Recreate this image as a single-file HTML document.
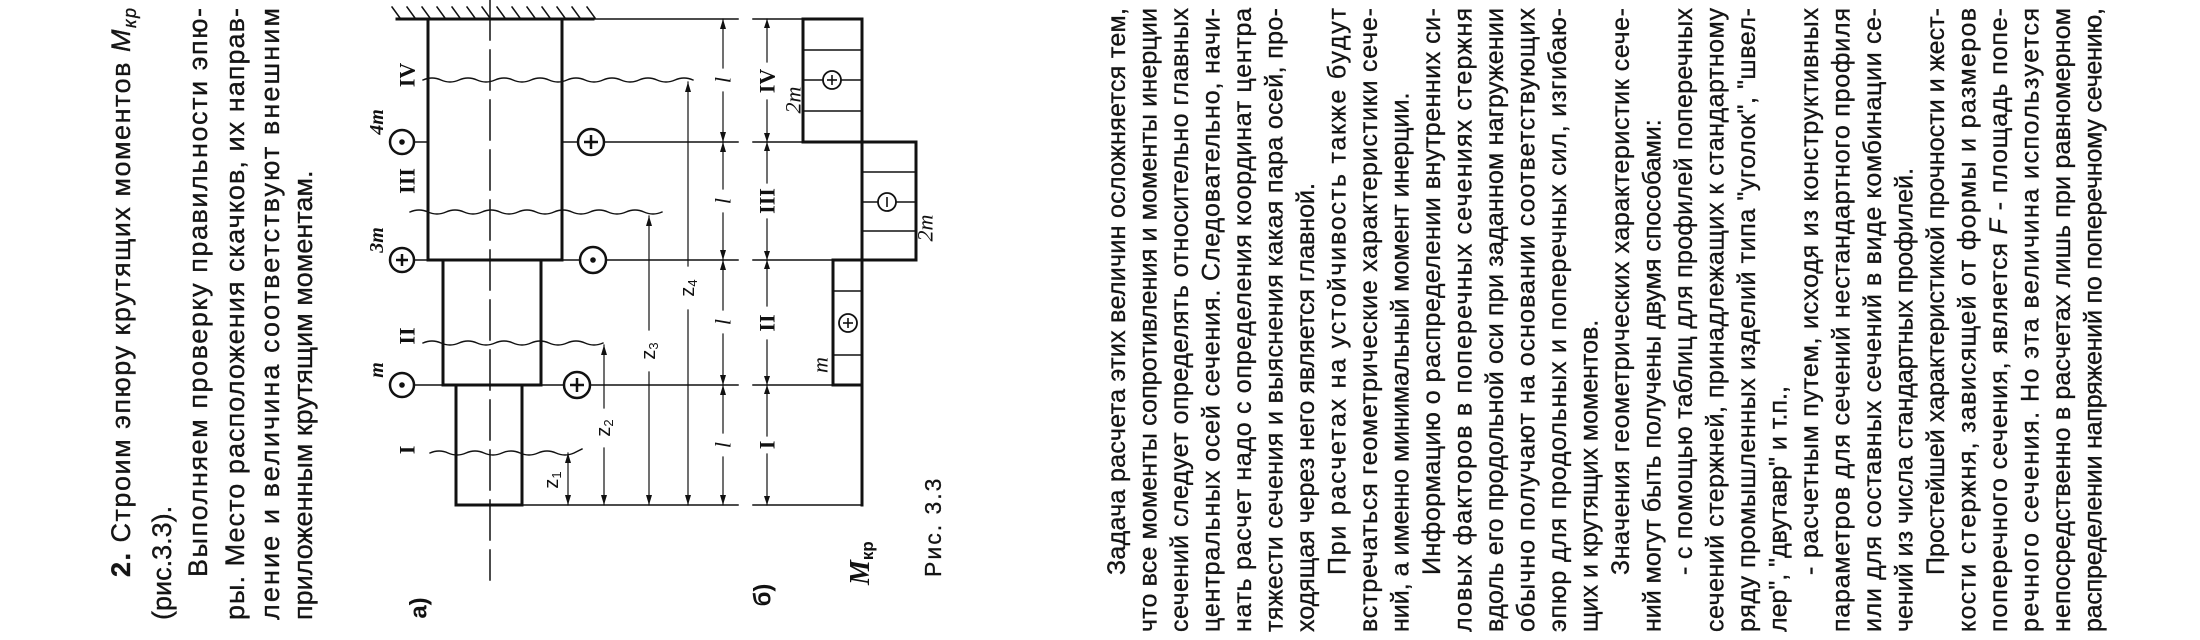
<!DOCTYPE html>
<html><head><meta charset="utf-8"><style>
html,body{margin:0;padding:0;background:#fff;width:2200px;height:640px;overflow:hidden}
svg{display:block}
</style></head><body>
<svg width="2200" height="640" viewBox="0 0 2200 640" xmlns="http://www.w3.org/2000/svg">
<rect width="2200" height="640" fill="#fff"/>

<!-- LEFT TEXT BLOCK -->
<g font-family="'Liberation Sans', sans-serif" font-size="27" fill="#151515" stroke="#151515" stroke-width="0.35">
<text transform="translate(130,577) rotate(-90)" textLength="569" lengthAdjust="spacing"><tspan font-weight="bold">2.</tspan> Строим эпюру крутящих моментов <tspan font-style="italic">M</tspan><tspan font-style="italic" font-size="18" dy="6">кр</tspan></text>
<text transform="translate(171,620) rotate(-90)">(рис.3.3).</text>
<text transform="translate(207,577) rotate(-90)" textLength="569" lengthAdjust="spacing">Выполняем проверку правильности эпю-</text>
<text transform="translate(244,620) rotate(-90)" textLength="612" lengthAdjust="spacing">ры. Место расположения скачков, их направ-</text>
<text transform="translate(279,620) rotate(-90)" textLength="612" lengthAdjust="spacing">ление и величина соответствуют внешним</text>
<text transform="translate(312,620) rotate(-90)">приложенным крутящим моментам.</text>
</g>

<!-- FIGURE a) -->
<g stroke="#111" fill="none" stroke-linecap="square">
  <line x1="490" y1="0" x2="490" y2="580" stroke-width="1.5" stroke-dasharray="40 10"/>
  <line x1="397" y1="19" x2="593" y2="19" stroke-width="3"/>
  <line x1="562" y1="19" x2="738" y2="19" stroke-width="1.5"/>
  <path stroke-width="1.5" d="M392,7 L400,18 M407,7 L415,18 M422,7 L430,18 M437,7 L445,18 M452,7 L460,18 M467,7 L475,18 M482,7 L490,18 M497,7 L505,18 M512,7 L520,18 M527,7 L535,18 M542,7 L550,18 M557,7 L565,18 M572,7 L580,18 M587,7 L595,18"/>
  <path stroke-width="3" d="M428,19 V260 H562 V19"/>
  <path stroke-width="3" d="M443,260 V385 H541 V260"/>
  <path stroke-width="3" d="M456,385 V505 H522 V385"/>
  <line x1="414" y1="142" x2="428" y2="142" stroke-width="1.5"/>
  <line x1="414" y1="260" x2="443" y2="260" stroke-width="1.5"/>
  <line x1="414" y1="385" x2="456" y2="385" stroke-width="1.5"/>
  <line x1="562" y1="142" x2="738" y2="142" stroke-width="1.5"/>
  <line x1="562" y1="260" x2="738" y2="260" stroke-width="1.5"/>
  <line x1="541" y1="385" x2="738" y2="385" stroke-width="1.5"/>
  <line x1="522" y1="505" x2="738" y2="505" stroke-width="1.5"/>
  <path stroke-width="1.4" d="M423,80 q9,-4 18,0 t18,0 t18,0 t18,0 t18,0 t18,0 t18,0 t18,0 t18,0 t18,0 t18,0 t18,0 t18,0 t18,0 t18,0"/>
  <path stroke-width="1.4" d="M410,212 q9,-4 18,0 t18,0 t18,0 t18,0 t18,0 t18,0 t18,0 t18,0 t18,0 t18,0 t18,0 t18,0 t18,0 t18,0"/>
  <path stroke-width="1.4" d="M423,343 q9,-4 18,0 t18,0 t18,0 t18,0 t18,0 t18,0 t18,0 t18,0 t18,0 t18,0"/>
  <path stroke-width="1.4" d="M430,453 q9,-4 18,0 t18,0 t18,0 t18,0 t18,0 t18,0 t18,0 t18,0 l8,-4"/>
  <line x1="568" y1="453" x2="568" y2="505" stroke-width="1.2"/>
  <line x1="604" y1="345" x2="604" y2="408" stroke-width="1.2"/>
  <line x1="604" y1="448" x2="604" y2="505" stroke-width="1.2"/>
  <line x1="649" y1="216" x2="649" y2="330" stroke-width="1.2"/>
  <line x1="649" y1="372" x2="649" y2="505" stroke-width="1.2"/>
  <line x1="688" y1="82" x2="688" y2="266" stroke-width="1.2"/>
  <line x1="688" y1="310" x2="688" y2="505" stroke-width="1.2"/>
  <line x1="723" y1="19" x2="723" y2="68" stroke-width="1.2"/>
  <line x1="723" y1="92" x2="723" y2="189" stroke-width="1.2"/>
  <line x1="723" y1="213" x2="723" y2="310" stroke-width="1.2"/>
  <line x1="723" y1="334" x2="723" y2="433" stroke-width="1.2"/>
  <line x1="723" y1="457" x2="723" y2="505" stroke-width="1.2"/>
  <line x1="753" y1="19" x2="862" y2="19" stroke-width="1.5"/>
  <line x1="753" y1="142" x2="916" y2="142" stroke-width="1.5"/>
  <line x1="753" y1="260" x2="916" y2="260" stroke-width="1.5"/>
  <line x1="753" y1="385" x2="862" y2="385" stroke-width="1.5"/>
  <line x1="753" y1="505" x2="862" y2="505" stroke-width="1.5"/>
  <line x1="767" y1="19" x2="767" y2="62" stroke-width="1.2"/>
  <line x1="767" y1="100" x2="767" y2="183" stroke-width="1.2"/>
  <line x1="767" y1="219" x2="767" y2="306" stroke-width="1.2"/>
  <line x1="767" y1="340" x2="767" y2="436" stroke-width="1.2"/>
  <line x1="767" y1="454" x2="767" y2="505" stroke-width="1.2"/>
  <line x1="862" y1="19" x2="862" y2="505" stroke-width="3"/>
  <path stroke-width="3" d="M862,19 H803 V142 H862"/>
  <path stroke-width="3" d="M862,142 H916 V260 H862"/>
  <path stroke-width="3" d="M862,260 H833 V385 H862"/>
  <g stroke-width="1.4">
    <line x1="803" y1="50" x2="862" y2="50"/>
    <line x1="803" y1="111" x2="862" y2="111"/>
    <line x1="803" y1="80" x2="822" y2="80"/>
    <line x1="842" y1="80" x2="862" y2="80"/>
    <line x1="862" y1="172" x2="916" y2="172"/>
    <line x1="862" y1="231" x2="916" y2="231"/>
    <line x1="862" y1="202" x2="877" y2="202"/>
    <line x1="897" y1="202" x2="916" y2="202"/>
    <line x1="833" y1="291" x2="862" y2="291"/>
    <line x1="833" y1="355" x2="862" y2="355"/>
  </g>
</g>

<g fill="#111" stroke="none">
  <polygon points="565,463 571,463 568,453"/>
  <polygon points="565,495 571,495 568,505"/>
  <polygon points="601,355 607,355 604,345"/>
  <polygon points="601,495 607,495 604,505"/>
  <polygon points="646,226 652,226 649,216"/>
  <polygon points="646,495 652,495 649,505"/>
  <polygon points="685,92 691,92 688,82"/>
  <polygon points="685,495 691,495 688,505"/>
  <polygon points="720,29 726,29 723,19"/>
  <polygon points="720,132 726,132 723,142"/>
  <polygon points="720,152 726,152 723,142"/>
  <polygon points="720,250 726,250 723,260"/>
  <polygon points="720,270 726,270 723,260"/>
  <polygon points="720,375 726,375 723,385"/>
  <polygon points="720,395 726,395 723,385"/>
  <polygon points="720,495 726,495 723,505"/>
  <polygon points="764,28 770,28 767,19"/>
  <polygon points="764,133 770,133 767,142"/>
  <polygon points="764,151 770,151 767,142"/>
  <polygon points="764,251 770,251 767,260"/>
  <polygon points="764,269 770,269 767,260"/>
  <polygon points="764,376 770,376 767,385"/>
  <polygon points="764,394 770,394 767,385"/>
  <polygon points="764,496 770,496 767,505"/>
</g>

<g stroke="#111" stroke-width="2.5" fill="#fff">
  <circle cx="402" cy="142" r="12"/>
  <circle cx="402" cy="260" r="12"/>
  <circle cx="402" cy="385" r="12"/>
  <circle cx="591" cy="142" r="13"/>
  <circle cx="593" cy="260" r="13"/>
  <circle cx="577" cy="385" r="13"/>
  <circle cx="832" cy="80" r="9" stroke-width="1.8"/>
  <circle cx="887" cy="202" r="9" stroke-width="1.8"/>
  <circle cx="848" cy="323" r="9" stroke-width="1.8"/>
</g>
<g fill="#111">
  <circle cx="402" cy="142" r="2.8"/>
  <circle cx="402" cy="385" r="2.8"/>
  <circle cx="593" cy="260" r="2.8"/>
</g>
<g stroke="#111" stroke-width="2.5">
  <line x1="396" y1="260" x2="408" y2="260"/><line x1="402" y1="254" x2="402" y2="266"/>
  <line x1="584" y1="142" x2="598" y2="142"/><line x1="591" y1="135" x2="591" y2="149"/>
  <line x1="570" y1="385" x2="584" y2="385"/><line x1="577" y1="378" x2="577" y2="392"/>
</g>
<g stroke="#111" stroke-width="1.6">
  <line x1="827" y1="80" x2="837" y2="80"/><line x1="832" y1="75" x2="832" y2="85"/>
  <line x1="887" y1="197" x2="887" y2="207"/>
  <line x1="843" y1="323" x2="853" y2="323"/><line x1="848" y1="318" x2="848" y2="328"/>
</g>

<g fill="#111" text-anchor="middle" dominant-baseline="central">
  <g font-family="'Liberation Serif', serif" font-weight="bold" font-size="22">
    <text transform="translate(407,75) rotate(-90)">IV</text>
    <text transform="translate(407,181) rotate(-90)">III</text>
    <text transform="translate(407,336) rotate(-90)">II</text>
    <text transform="translate(407,450) rotate(-90)">I</text>
    <text transform="translate(767,81) rotate(-90)">IV</text>
    <text transform="translate(767,201) rotate(-90)">III</text>
    <text transform="translate(767,323) rotate(-90)">II</text>
    <text transform="translate(767,445) rotate(-90)">I</text>
  </g>
  <g font-family="'Liberation Serif', serif" font-weight="bold" font-style="italic" font-size="20">
    <text transform="translate(377,122) rotate(-90)">4m</text>
    <text transform="translate(377,240) rotate(-90)">3m</text>
    <text transform="translate(377,370) rotate(-90)">m</text>
  </g>
  <g font-family="'Liberation Serif', serif" font-style="italic" font-size="22">
    <text transform="translate(723,80) rotate(-90)">l</text>
    <text transform="translate(723,201) rotate(-90)">l</text>
    <text transform="translate(723,322) rotate(-90)">l</text>
    <text transform="translate(723,445) rotate(-90)">l</text>
    <text transform="translate(793,100) rotate(-90)">2m</text>
    <text transform="translate(925,228) rotate(-90)">2m</text>
    <text transform="translate(820,365) rotate(-90)">m</text>
  </g>
  <g font-family="'Liberation Sans', sans-serif" font-size="20">
    <text transform="translate(552,480) rotate(-90)">z<tspan font-size="13" dy="4">1</tspan></text>
    <text transform="translate(604,428) rotate(-90)">z<tspan font-size="13" dy="4">2</tspan></text>
    <text transform="translate(649,351) rotate(-90)">z<tspan font-size="13" dy="4">3</tspan></text>
    <text transform="translate(688,288) rotate(-90)">z<tspan font-size="13" dy="4">4</tspan></text>
  </g>
  <g font-family="'Liberation Sans', sans-serif" font-weight="bold" font-size="24">
    <text transform="translate(419,608) rotate(-90)">а)</text>
    <text transform="translate(763,595) rotate(-90)">б)</text>
  </g>
</g>
<text transform="translate(869,585) rotate(-90)" font-family="'Liberation Serif', serif" font-weight="bold" font-style="italic" font-size="28" fill="#111">M<tspan font-family="'Liberation Sans', sans-serif" font-style="normal" font-size="17" dy="4">кр</tspan></text>
<text transform="translate(941,577) rotate(-90)" font-family="'Liberation Sans', sans-serif" font-size="23" letter-spacing="2" fill="#151515" stroke="#151515" stroke-width="0.3">Рис. 3.3</text>

<!-- RIGHT TEXT BLOCK -->
<g font-family="'Liberation Sans', sans-serif" font-size="25" fill="#151515" stroke="#151515" stroke-width="0.35">
<text transform="translate(1125,575) rotate(-90)" textLength="567" lengthAdjust="spacing">Задача расчета этих величин осложняется тем,</text>
<text transform="translate(1156.5,632) rotate(-90)" textLength="624" lengthAdjust="spacing">что все моменты сопротивления и моменты инерции</text>
<text transform="translate(1188,632) rotate(-90)" textLength="624" lengthAdjust="spacing">сечений следует определять относительно главных</text>
<text transform="translate(1219.5,632) rotate(-90)" textLength="624" lengthAdjust="spacing">центральных осей сечения. Следовательно, начи-</text>
<text transform="translate(1251,632) rotate(-90)" textLength="624" lengthAdjust="spacing">нать расчет надо с определения координат центра</text>
<text transform="translate(1282.5,632) rotate(-90)" textLength="624" lengthAdjust="spacing">тяжести сечения и выяснения какая пара осей, про-</text>
<text transform="translate(1314,632) rotate(-90)">ходящая через него является главной.</text>
<text transform="translate(1345.5,575) rotate(-90)" textLength="567" lengthAdjust="spacing">При расчетах на устойчивость также будут</text>
<text transform="translate(1377,632) rotate(-90)" textLength="624" lengthAdjust="spacing">встречаться геометрические характеристики сече-</text>
<text transform="translate(1408.5,632) rotate(-90)">ний, а именно минимальный момент инерции.</text>
<text transform="translate(1440,575) rotate(-90)" textLength="567" lengthAdjust="spacing">Информацию о распределении внутренних си-</text>
<text transform="translate(1471.5,632) rotate(-90)" textLength="624" lengthAdjust="spacing">ловых факторов в поперечных сечениях стержня</text>
<text transform="translate(1503,632) rotate(-90)" textLength="624" lengthAdjust="spacing">вдоль его продольной оси при заданном нагружении</text>
<text transform="translate(1534.5,632) rotate(-90)" textLength="624" lengthAdjust="spacing">обычно получают на основании соответствующих</text>
<text transform="translate(1566,632) rotate(-90)" textLength="624" lengthAdjust="spacing">эпюр для продольных и поперечных сил, изгибаю-</text>
<text transform="translate(1597.5,632) rotate(-90)">щих и крутящих моментов.</text>
<text transform="translate(1629,575) rotate(-90)" textLength="567" lengthAdjust="spacing">Значения геометрических характеристик сече-</text>
<text transform="translate(1660.5,632) rotate(-90)">ний могут быть получены двумя способами:</text>
<text transform="translate(1692,575) rotate(-90)" textLength="567" lengthAdjust="spacing">- с помощью таблиц для профилей поперечных</text>
<text transform="translate(1723.5,632) rotate(-90)" textLength="624" lengthAdjust="spacing">сечений стержней, принадлежащих к стандартному</text>
<text transform="translate(1755,632) rotate(-90)" textLength="624" lengthAdjust="spacing">ряду промышленных изделий типа "уголок", "швел-</text>
<text transform="translate(1786.5,632) rotate(-90)">лер", "двутавр" и т.п.,</text>
<text transform="translate(1818,575) rotate(-90)" textLength="567" lengthAdjust="spacing">- расчетным путем, исходя из конструктивных</text>
<text transform="translate(1849.5,632) rotate(-90)" textLength="624" lengthAdjust="spacing">параметров для сечений нестандартного профиля</text>
<text transform="translate(1881,632) rotate(-90)" textLength="624" lengthAdjust="spacing">или для составных сечений в виде комбинации се-</text>
<text transform="translate(1912.5,632) rotate(-90)">чений из числа стандартных профилей.</text>
<text transform="translate(1944,575) rotate(-90)" textLength="567" lengthAdjust="spacing">Простейшей характеристикой прочности и жест-</text>
<text transform="translate(1975.5,632) rotate(-90)" textLength="624" lengthAdjust="spacing">кости стержня, зависящей от формы и размеров</text>
<text transform="translate(2007,632) rotate(-90)" textLength="624" lengthAdjust="spacing">поперечного сечения, является <tspan font-style="italic">F</tspan> - площадь попе-</text>
<text transform="translate(2038.5,632) rotate(-90)" textLength="624" lengthAdjust="spacing">речного сечения. Но эта величина используется</text>
<text transform="translate(2070,632) rotate(-90)" textLength="624" lengthAdjust="spacing">непосредственно в расчетах лишь при равномерном</text>
<text transform="translate(2101.5,632) rotate(-90)" textLength="624" lengthAdjust="spacing">распределении напряжений по поперечному сечению,</text>
</g>
</svg>
</body></html>
